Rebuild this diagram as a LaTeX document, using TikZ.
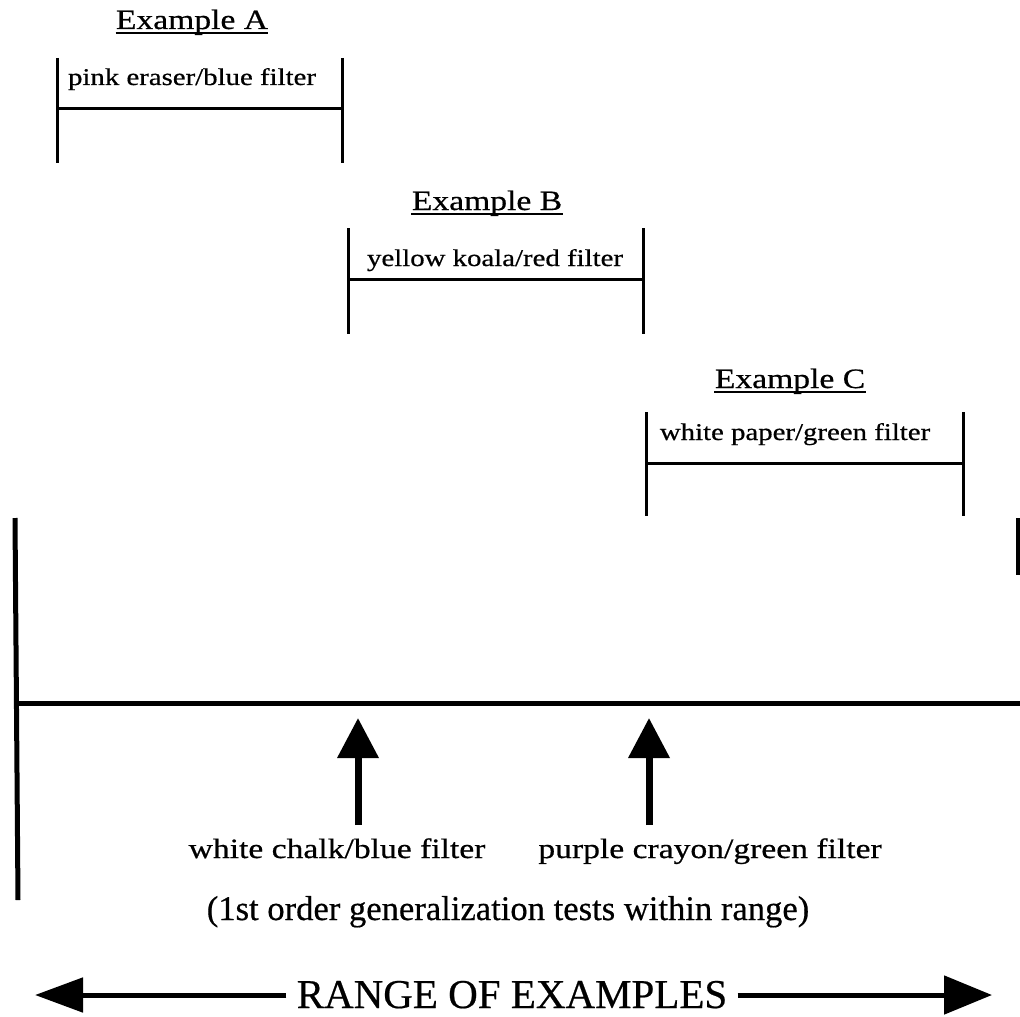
\documentclass[tikz,border=0pt]{standalone}
\usepackage{fontspec}
\setmainfont{Liberation Serif}[FakeBold=0.5]
\newfontfamily\wideSerif{Liberation Serif}[FakeStretch=1.2,FakeBold=0.6]
\usetikzlibrary{arrows.meta}

\begin{document}
\begin{tikzpicture}[x=0.5pt,y=-0.5pt,
  exBar/.style={line width=1.5pt},
  exTitle/.style={anchor=base,inner sep=0pt,font=\wideSerif\fontsize{14}{16}\selectfont},
  exLabel/.style={anchor=base,inner sep=0pt,font=\wideSerif\fontsize{12}{14}\selectfont},
  testLabel/.style={anchor=base,inner sep=0pt,font=\wideSerif\fontsize{14}{16}\selectfont},
  rangeLine/.style={line width=2.5pt},
  testArrow/.style={line width=3.5pt,-{Triangle[length=20pt,width=20pt]}}]
\useasboundingbox (0,0) rectangle (1020,1016);

% example brackets
\foreach \n/\l/\r/\t/\m/\b/\tx/\ty/\lx/\ly/\lab in {
  A/57/342/58/109/163/192/29/192/85/{pink eraser/blue filter},
  B/348/643/228/279/334/487/210/495/266/{yellow koala/red filter},
  C/646/963/412/463/516/790/388/795/440/{white paper/green filter}} {
  \coordinate (tl\n) at (\l,\t);
  \coordinate (bl\n) at (\l,\b);
  \coordinate (tr\n) at (\r,\t);
  \coordinate (br\n) at (\r,\b);
  \coordinate (ml\n) at (\l,\m);
  \coordinate (mr\n) at (\r,\m);
  \draw[exBar] (tl\n) -- (bl\n);
  \draw[exBar] (tr\n) -- (br\n);
  \draw[exBar] (ml\n) -- (mr\n);
  \node[exTitle] (title\n) at (\tx,\ty) {Example \n};
  \draw[line width=1pt] ([yshift=-2pt]title\n.base west) -- ([yshift=-2pt]title\n.base east);
  \node[exLabel] (label\n) at (\lx,\ly) {\lab};
}

% range axis
\coordinate (axisTop) at (15,518);
\coordinate (axisBot) at (18,900);
\coordinate (axisL) at (15,703);
\coordinate (axisR) at (1020,703);
\coordinate (edgeTop) at (1018,518);
\coordinate (edgeBot) at (1018,575);
\draw[rangeLine] (axisTop) -- (axisBot);
\draw[rangeLine] (axisL) -- (axisR);
\draw[rangeLine] (edgeTop) -- (edgeBot);

% generalization tests
\node[testLabel] (testChalk) at (337,858) {white chalk/blue filter};
\node[testLabel] (testCrayon) at (710,858) {purple crayon/green filter};
\coordinate (tipChalk) at (358,718);
\coordinate (tipCrayon) at (649,718);
\draw[testArrow] (358,825) -- (tipChalk);
\draw[testArrow] (649,825) -- (tipCrayon);

\node[anchor=base,font=\fontsize{17.3}{20}\selectfont] (within) at (508,920)
  {(1st order generalization tests within range)};

% range of examples
\node[anchor=base,inner sep=5pt,font=\fontsize{20.5}{24}\selectfont] (range) at (512,1008)
  {RANGE OF EXAMPLES};
\coordinate (rangeL) at (35,995);
\coordinate (rangeR) at (992,995);
\draw[rangeLine,-{Triangle[length=24pt,width=17pt]}] (range.west |- rangeL) -- (rangeL);
\draw[rangeLine,-{Triangle[length=24pt,width=19pt]}] (range.east |- rangeR) -- (rangeR);
\end{tikzpicture}
\end{document}
